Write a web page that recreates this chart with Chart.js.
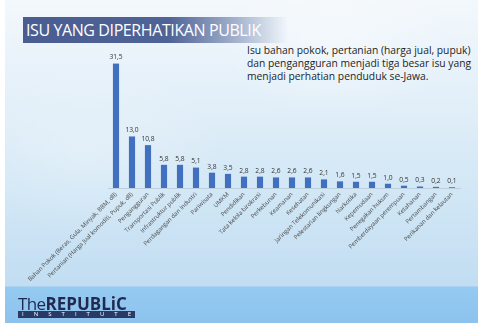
<!DOCTYPE html>
<html>
<head>
<meta charset="utf-8">
<script src="https://cdn.jsdelivr.net/npm/chart.js@4"></script>
<style>
  html, body { margin:0; padding:0; width:484px; height:323px; overflow:hidden; background:#ffffff; }
  #bg { position:absolute; left:5px; top:0; width:473px; height:323px;
        background: linear-gradient(180deg, #f3f8fc 0px, #e4f0f9 90px, #d0e6f5 200px, #c2ddf2 286px, #95caf1 287px, #8cc3ee 323px); }
  #bg2 { position:absolute; left:5px; top:0; width:473px; height:287px;
        background: radial-gradient(ellipse 120px 80px at 330px 40px, rgba(255,255,255,0.35), rgba(255,255,255,0)),
                    radial-gradient(ellipse 140px 90px at 80px 150px, rgba(255,255,255,0.25), rgba(255,255,255,0)); }
  #titlebar { position:absolute; left:23px; top:17px; width:265px; height:26px;
        background: linear-gradient(90deg, #4a5d92 0%, #4f6396 55%, rgba(100,120,165,0.55) 80%, rgba(200,215,235,0) 100%); }
  #title { position:absolute; left:26px; top:18px; font-family:"Open Sans", sans-serif; font-size:16px; color:#ffffff; letter-spacing:-0.4px; white-space:nowrap; line-height:24px; }
  #note { position:absolute; left:247px; top:43.5px; font-family:"Open Sans", sans-serif; font-size:10.3px; color:#1e1e1e; line-height:13.4px; white-space:nowrap; }
  canvas { position:absolute; left:0; top:0; }
  #logo { position:absolute; left:18px; top:295px; font-family:"Open Sans", sans-serif; color:#1f2a4e; white-space:nowrap; line-height:17px; }
  #logo .the { font-size:17px; letter-spacing:-0.6px; }
  #logo .rep { font-size:17px; font-weight:bold; letter-spacing:0px; }
  #inst { position:absolute; left:18px; top:311px; width:117px; height:7px; background:#2a3a66; color:#ffffff;
          font-family:"Open Sans", sans-serif; font-size:6px; line-height:7px; display:flex; justify-content:space-between; padding:0 4px; box-sizing:border-box; }
</style>
</head>
<body>
<div id="bg"></div>
<div id="bg2"></div>
<div id="titlebar"></div>
<div id="title">ISU YANG DIPERHATIKAN PUBLIK</div>
<div id="note">Isu bahan pokok, pertanian (harga jual, pupuk)<br>dan pengangguran menjadi tiga besar isu yang<br>menjadi perhatian penduduk se-Jawa.</div>
<canvas id="c" width="484" height="323"></canvas>
<div id="logo"><span class="the">The</span><span class="rep">REPUBLiC</span></div>
<div id="inst"><span>I</span><span>N</span><span>S</span><span>T</span><span>I</span><span>T</span><span>U</span><span>T</span><span>E</span></div>
<script>
const categories = [
  "Bahan Pokok (Beras, Gula, Minyak, BBM, dll)",
  "Pertanian (Harga Jual komoditi, Pupuk, dll)",
  "Pengangguran",
  "Transportasi Publik",
  "Infrastruktur publik",
  "Perdagangan dan Industri",
  "Pariwisata",
  "UMKM",
  "Pendidikan",
  "Tata kelola birokrasi",
  "Perkebunan",
  "Keamanan",
  "Kesehatan",
  "Jaringan Telekomunikasi",
  "Pelestarian lingkungan",
  "Narkotika",
  "Kepemudaan",
  "Penegakan hukum",
  "Pemberdayaan perempuan",
  "Ketahanan",
  "Pertambangan",
  "Perikanan dan kelautan"
];
const values = [31.5, 13.0, 10.8, 5.8, 5.8, 5.1, 3.8, 3.5, 2.8, 2.8, 2.6, 2.6, 2.6, 2.1, 1.6, 1.5, 1.5, 1.0, 0.5, 0.3, 0.2, 0.1];

const valueLabels = {
  id: 'valueLabels',
  afterDatasetsDraw(chart) {
    const ctx = chart.ctx;
    const meta = chart.getDatasetMeta(0);
    ctx.save();
    ctx.font = '6.7px "Open Sans", sans-serif';
    ctx.fillStyle = '#333333';
    ctx.textAlign = 'center';
    ctx.textBaseline = 'bottom';
    meta.data.forEach((bar, i) => {
      const txt = values[i].toFixed(1).replace('.', ',');
      ctx.fillText(txt, bar.x, bar.y - 3);
    });
    ctx.restore();
  }
};

new Chart(document.getElementById('c'), {
  type: 'bar',
  data: {
    labels: categories,
    datasets: [{
      data: values,
      backgroundColor: '#4170c0',
      barThickness: 5.5
    }]
  },
  options: {
    responsive: false,
    devicePixelRatio: 1,
    animation: false,
    layout: { padding: { left: 108, right: 24, top: 58, bottom: 0 } },
    plugins: { legend: { display: false }, tooltip: { enabled: false } },
    scales: {
      y: { display: false, min: 0, max: 33 },
      x: {
        grid: { display: false, drawTicks: false },
        border: { display: true, color: 'rgba(180,195,210,0.7)' },
        ticks: {
          autoSkip: false, maxRotation: 45, minRotation: 45,
          padding: 3,
          color: '#4a4a4a',
          font: { family: '"Open Sans", sans-serif', size: 6 }
        },
        afterFit(scale) { scale.height = 135; }
      }
    }
  },
  plugins: [valueLabels]
});
</script>
</body>
</html>
